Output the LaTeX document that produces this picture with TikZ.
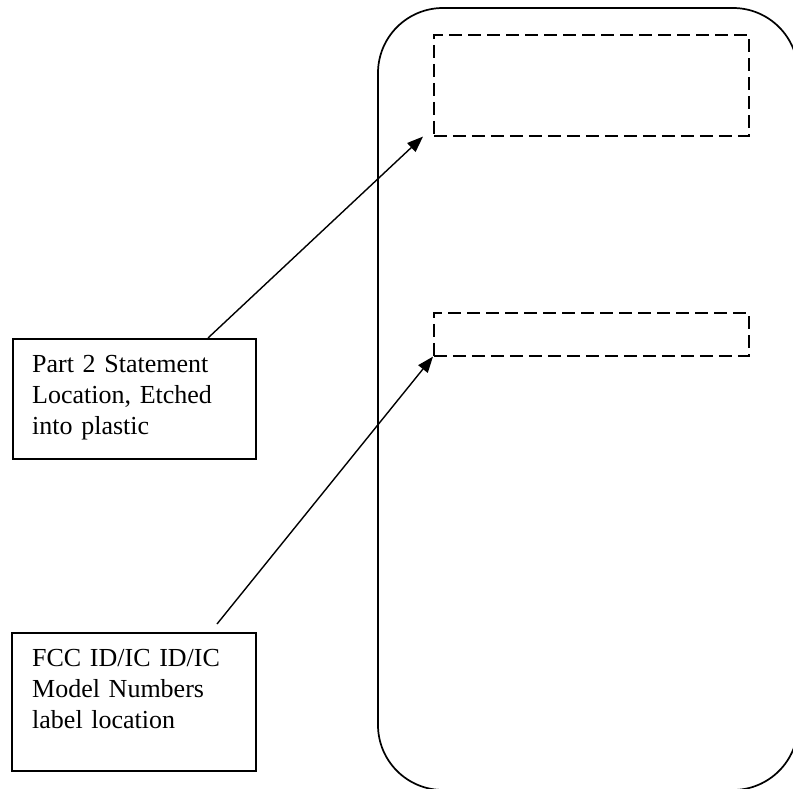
\documentclass[tikz,border=0pt]{standalone}
\usepackage{fontspec}
\setmainfont{Liberation Serif}
\usetikzlibrary{arrows.meta}
\begin{document}
\begin{tikzpicture}[x=1pt,y=-1pt,
  labelbox/.style={draw, line width=1.7pt, rectangle, inner sep=0pt, anchor=north west},
  labeltext/.style={inner sep=0pt, anchor=base west, text width=220pt, align=left,
    font=\fontsize{26}{31}\selectfont},
  dashbox/.style={draw, line width=1.6pt, dash pattern=on 13pt off 6pt},
  pointer/.style={draw, line width=1.4pt, -{Triangle[length=16pt,width=12pt]}}
]
\useasboundingbox (0,0) rectangle (793,789);
% device outline
\draw[line width=1.7pt, rounded corners=65pt] (378,8) rectangle (798,790);
% dashed label areas
\node[dashbox, inner sep=0pt, anchor=north west, minimum width=315pt, minimum height=101pt] (area1) at (433,34) {};
\node[dashbox, inner sep=0pt, anchor=north west, minimum width=315pt, minimum height=43pt] (area2) at (433,312) {};
% callout boxes
\node[labelbox, minimum width=243pt, minimum height=120pt] (p2) at (12,338) {};
\node[labeltext] (p2t) at (32,372) {Part 2 Statement\\Location, Etched\\into plastic};
\node[labelbox, minimum width=244pt, minimum height=138pt] (fcc) at (11,632) {};
\node[labeltext] (fcct) at (32,666) {FCC ID/IC ID/IC\\Model Numbers\\label location};
% connectors
\coordinate (s1) at (208,338);
\coordinate (e1) at ([xshift=-10pt]area1.south west);
\coordinate (s2) at (217,624);
\draw[pointer] (s1) -- (e1);
\draw[pointer] (s2) -- (area2.south west);
\end{tikzpicture}
\end{document}
